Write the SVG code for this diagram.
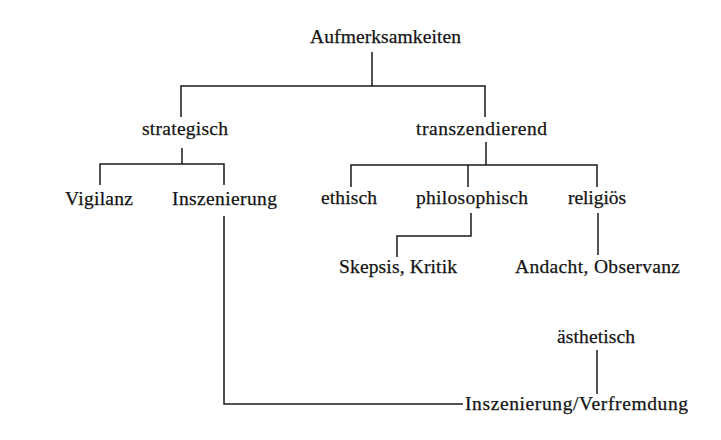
<svg xmlns="http://www.w3.org/2000/svg" width="721" height="440" viewBox="0 0 721 440">
<style>
.t{font-family:"Liberation Serif","DejaVu Serif",serif;font-size:19.5px;fill:#141414;stroke:#141414;stroke-width:0.25}
.c line,.c polyline{stroke:#1a1a1a;stroke-width:1.5;fill:none}
</style>
<rect width="721" height="440" fill="#ffffff"/>
<g class="c" id="connectors">
<line x1="372" y1="52" x2="372" y2="86"/>
<polyline points="181,117 181,86 485,86 485,117"/>
<line x1="182" y1="148" x2="182" y2="164"/>
<polyline points="100,185 100,164 224,164 224,185"/>
<line x1="486" y1="142" x2="486" y2="165"/>
<polyline points="351,187 351,165 597,165 597,187"/>
<line x1="468" y1="165" x2="468" y2="187"/>
<polyline points="471,213 471,236 397,236 397,257"/>
<line x1="598" y1="213" x2="598" y2="255"/>
<polyline points="224,216 224,404 463,404"/>
<line x1="597" y1="350" x2="597" y2="394"/>
</g>
<g id="n-aufmerksamkeiten"><text class="t" x="310" y="43" textLength="151">Aufmerksamkeiten</text></g>
<g id="n-strategisch"><text class="t" x="142" y="135" textLength="86">strategisch</text></g>
<g id="n-transzendierend"><text class="t" x="416" y="135" textLength="131">transzendierend</text></g>
<g id="n-vigilanz"><text class="t" x="65" y="205" textLength="68">Vigilanz</text></g>
<g id="n-inszenierung"><text class="t" x="172" y="205" textLength="105">Inszenierung</text></g>
<g id="n-ethisch"><text class="t" x="321" y="204" textLength="56">ethisch</text></g>
<g id="n-philosophisch"><text class="t" x="416" y="204" textLength="112">philosophisch</text></g>
<g id="n-religioes"><text class="t" x="568" y="204" textLength="58">religiös</text></g>
<g id="n-skepsis"><text class="t" x="339" y="273" textLength="118">Skepsis, Kritik</text></g>
<g id="n-andacht"><text class="t" x="515" y="273" textLength="165">Andacht, Observanz</text></g>
<g id="n-aesthetisch"><text class="t" x="557" y="343" textLength="78">ästhetisch</text></g>
<g id="n-verfremdung"><text class="t" x="465" y="410" textLength="223">Inszenierung/Verfremdung</text></g>
</svg>
